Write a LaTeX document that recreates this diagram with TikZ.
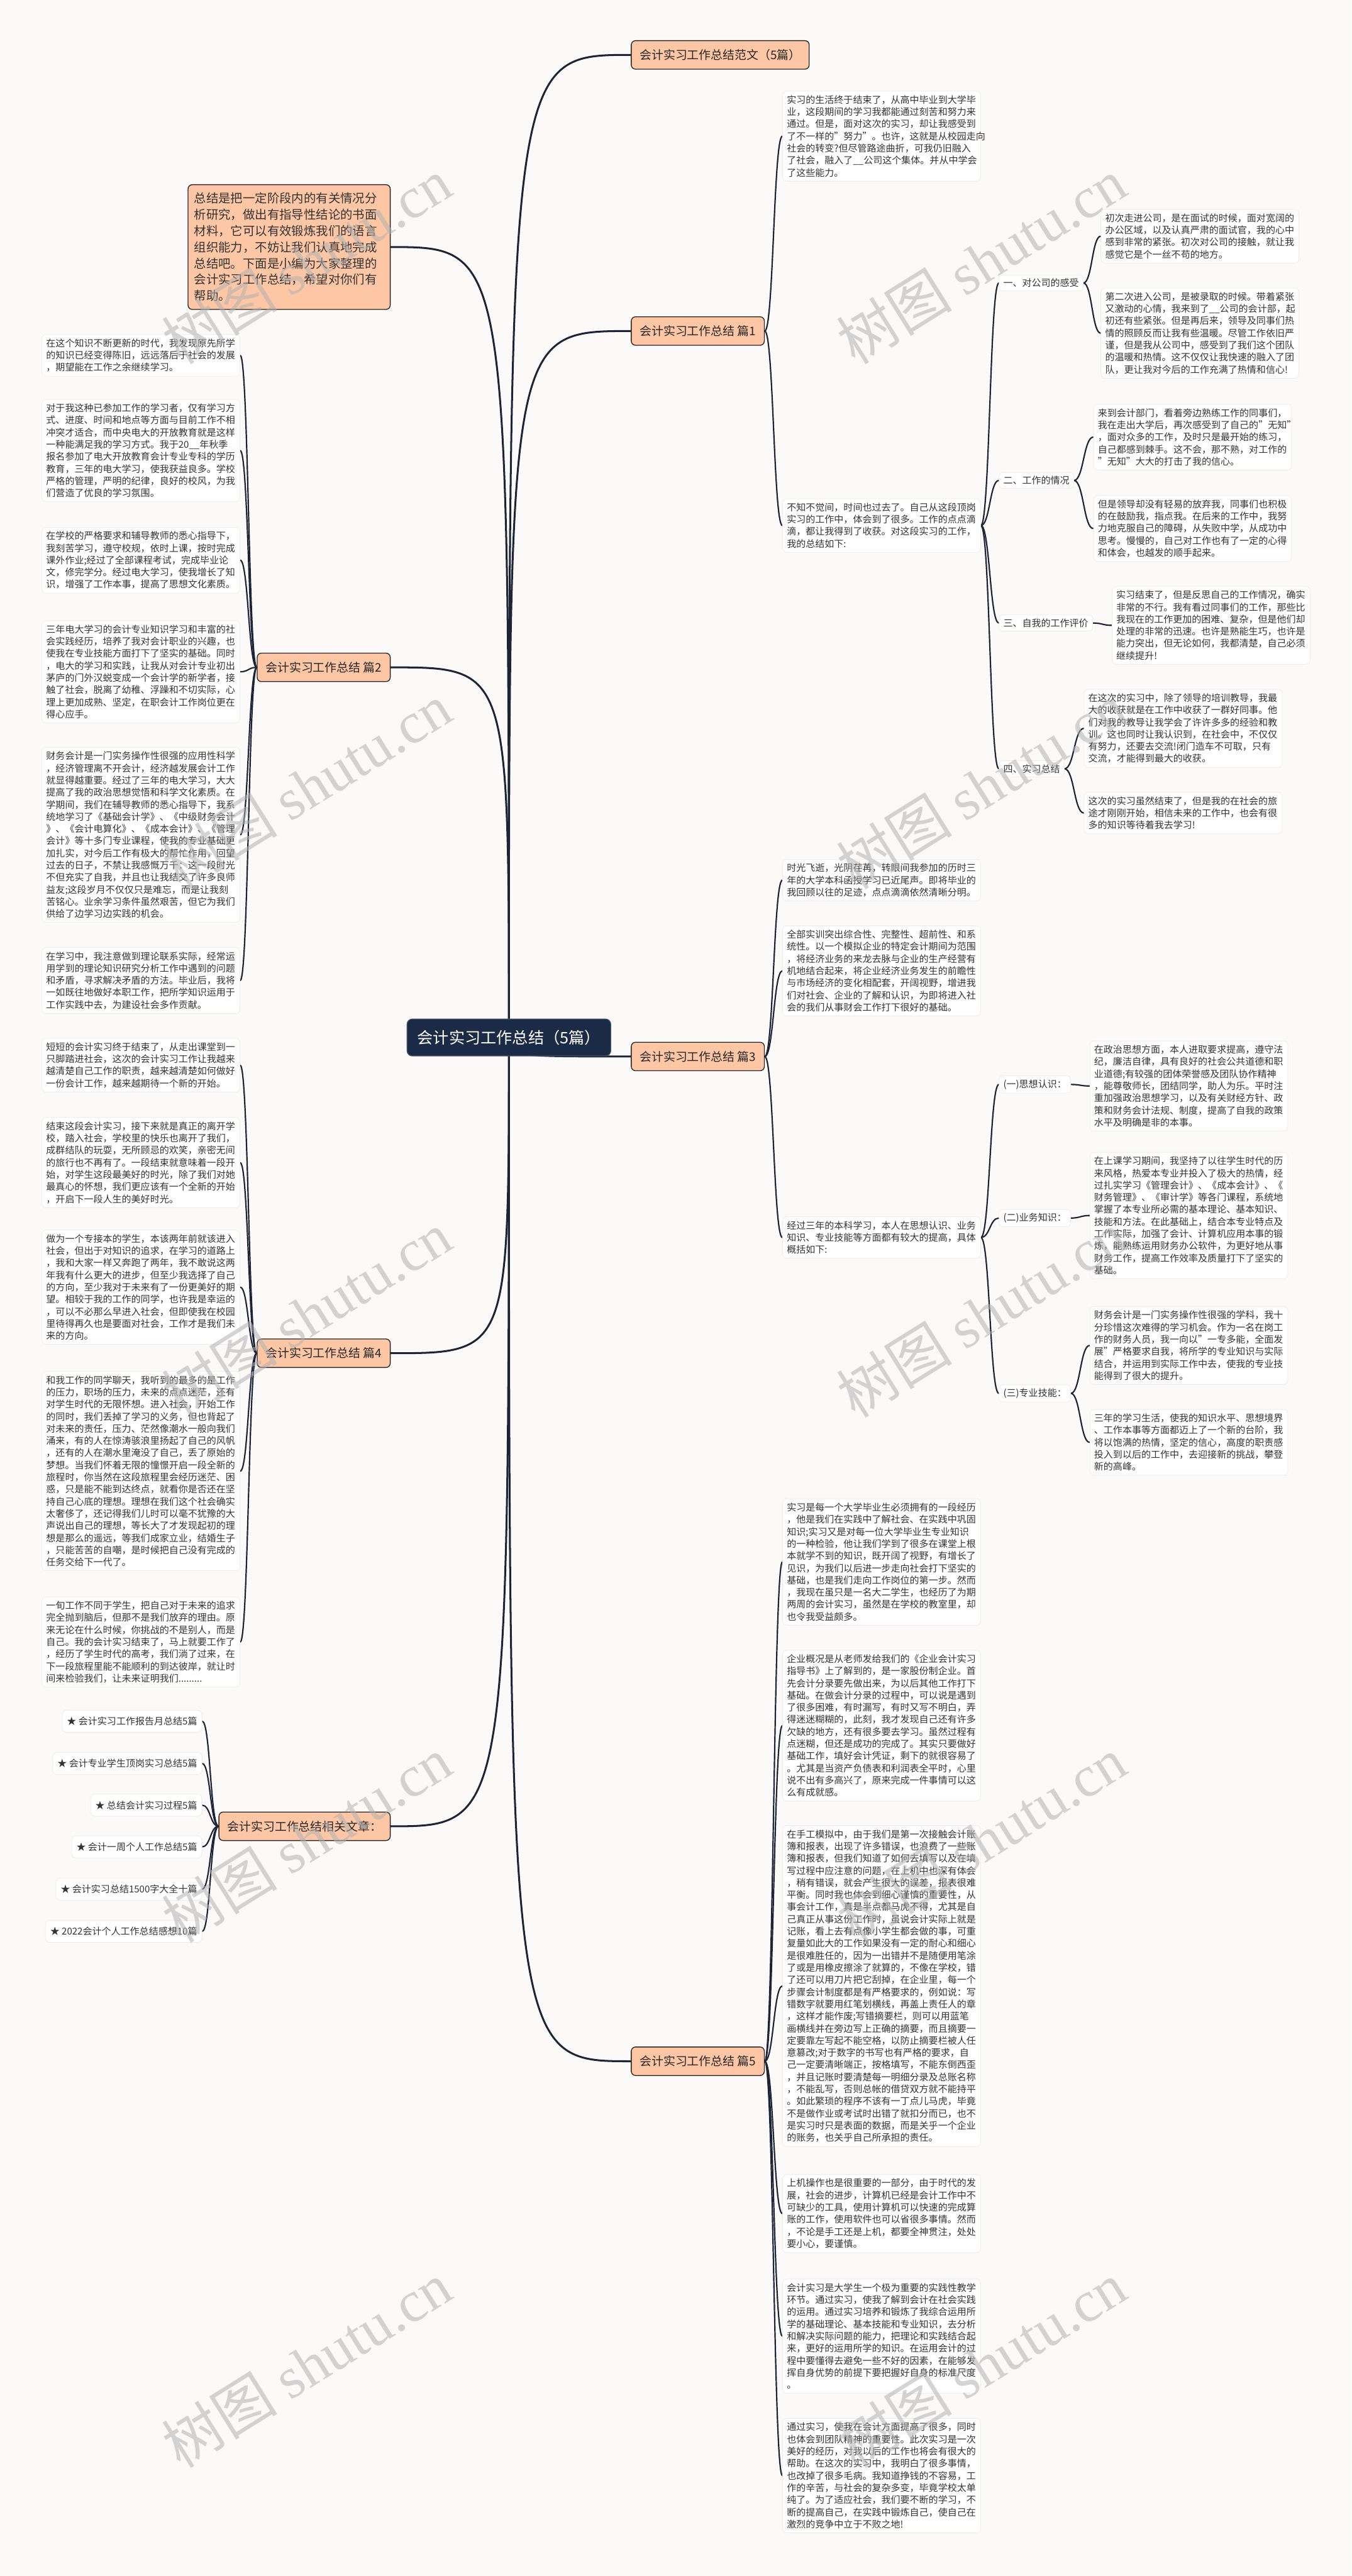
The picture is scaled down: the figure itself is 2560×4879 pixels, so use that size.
\documentclass[tikz,border=0pt]{standalone}
\usepackage{fontspec}
\setmainfont{Noto Sans CJK SC}
\newfontfamily\wmlat{Liberation Serif}
\usetikzlibrary{calc}
\pgfdeclarelayer{back}
\pgfdeclarelayer{lines}
\pgfsetlayers{back,lines,main}
\definecolor{bg}{HTML}{FCFAF9}
\definecolor{peach}{HTML}{FDC6A5}
\definecolor{navy}{HTML}{1B2A45}
\definecolor{linec}{HTML}{1C2436}
\definecolor{txt}{HTML}{333333}
\definecolor{faint}{HTML}{F0EBE8}
\tikzset{
 conn/.style={draw=linec, line width=2.6pt, line cap=round},
 rootconn/.style={draw=linec, line width=3.6pt, line cap=round},
 body/.style={anchor=north west, fill=white, draw=faint, line width=1pt, rounded corners=8pt, text width=359pt, inner xsep=8pt, inner ysep=8pt, align=left, text=txt, font=\fontsize{17.9}{23}\selectfont},
 branch/.style={fill=peach, draw=black!85, line width=1.6pt, rounded corners=8pt, minimum height=54pt, inner xsep=16pt, text=black!85, font=\fontsize{22.5}{26}\selectfont},
 subn/.style={anchor=west, fill=white, draw=faint, line width=1pt, rounded corners=6pt, inner xsep=8pt, inner ysep=7pt, text=txt, font=\fontsize{17.9}{22}\selectfont},
 item/.style={anchor=east, fill=white, draw=faint, line width=1pt, rounded corners=8pt, inner xsep=9pt, minimum height=42pt, text=txt, font=\fontsize{17.9}{22}\selectfont},
 rootn/.style={fill=navy, draw=navy!80!white, line width=1.5pt, rounded corners=10pt, minimum width=386pt, minimum height=70pt, text=white, font=\fontsize{30}{34}\selectfont},
 intron/.style={anchor=north east, fill=peach, draw=black!85, line width=1.6pt, rounded corners=8pt, text width=360pt, inner xsep=11.5pt, inner ysep=15pt, align=left, text=txt, font=\fontsize{23.1}{30.8}\selectfont},
 wm/.style={anchor=south west, rotate=32, text=black!30, opacity=0.55, inner sep=0pt, font=\fontsize{110}{110}\selectfont},
}
\newcommand\sconn[2]{\coordinate (sA) at (#1); \coordinate (sB) at (#2); \coordinate (sM) at ($(sA)!0.5!(sB)$); \draw[conn] (sA) .. controls (sM |- sA) and (sM |- sB) .. (sB);}
\newcommand\rconn[2]{\coordinate (rA) at (#1); \coordinate (rB) at (#2); \draw[rootconn] (rA) .. controls (rA |- rB) .. (rB);}
\begin{document}
\begin{tikzpicture}[x=1pt,y=-1pt]
\useasboundingbox (0,0) rectangle (2560,4879);
\begin{pgfonlayer}{back}\fill[bg] (0,0) rectangle (2560,4879);\end{pgfonlayer}

% root and branches
\node[rootn] (root) at (964,1965) {会计实习工作总结（5篇）};
\node[branch, anchor=west] (fw) at (1195,104) {会计实习工作总结范文（5篇）};
\node[branch, anchor=west] (p1) at (1195,627) {会计实习工作总结 篇1};
\node[branch, anchor=west] (p3) at (1195,2001) {会计实习工作总结 篇3};
\node[branch, anchor=west] (p5) at (1195,3904) {会计实习工作总结 篇5};
\node[branch, anchor=east] (p2) at (740,1264) {会计实习工作总结 篇2};
\node[branch, anchor=east] (p4) at (740,2563) {会计实习工作总结 篇4};
\node[branch, anchor=east] (rel) at (740,3459) {会计实习工作总结相关文章：};
\node[intron] (intro) at (740,349) {总结是把一定阶段内的有关情况分\\析研究，做出有指导性结论的书面\\材料，它可以有效锻炼我们的语言\\组织能力，不妨让我们认真地完成\\总结吧。下面是小编为大家整理的\\会计实习工作总结，希望对你们有\\帮助。};

% 篇2 texts
\node[body] (L2a) at (79,633) {在这个知识不断更新的时代，我发现原先所学\\的知识已经变得陈旧，远远落后于社会的发展\\，期望能在工作之余继续学习。};
\node[body] (L2b) at (79,756) {对于我这种已参加工作的学习者，仅有学习方\\式、进度、时间和地点等方面与目前工作不相\\冲突才适合，而中央电大的开放教育就是这样\\一种能满足我的学习方式。我于20\_\_年秋季\\报名参加了电大开放教育会计专业专科的学历\\教育，三年的电大学习，使我获益良多。学校\\严格的管理，严明的纪律，良好的校风，为我\\们营造了优良的学习氛围。};
\node[body] (L2c) at (79,998) {在学校的严格要求和辅导教师的悉心指导下，\\我刻苦学习，遵守校规，依时上课，按时完成\\课外作业;经过了全部课程考试，完成毕业论\\文，修完学分。经过电大学习，使我增长了知\\识，增强了工作本事，提高了思想文化素质。};
\node[body] (L2d) at (79,1175) {三年电大学习的会计专业知识学习和丰富的社\\会实践经历，培养了我对会计职业的兴趣，也\\使我在专业技能方面打下了坚实的基础。同时\\，电大的学习和实践，让我从对会计专业初出\\茅庐的门外汉蜕变成一个会计学的新学者，接\\触了社会，脱离了幼稚、浮躁和不切实际，心\\理上更加成熟、坚定，在职会计工作岗位更在\\得心应手。};
\node[body] (L2e) at (79,1415) {财务会计是一门实务操作性很强的应用性科学\\，经济管理离不开会计，经济越发展会计工作\\就显得越重要。经过了三年的电大学习，大大\\提高了我的政治思想觉悟和科学文化素质。在\\学期间，我们在辅导教师的悉心指导下，我系\\统地学习了《基础会计学》、《中级财务会计\\》、《会计电算化》、《成本会计》、《管理\\会计》等十多门专业课程，使我的专业基础更\\加扎实，对今后工作有极大的帮忙作用，回望\\过去的日子，不禁让我感慨万千：这一段时光\\不但充实了自我，并且也让我结交了许多良师\\益友;这段岁月不仅仅只是难忘，而是让我刻\\苦铭心。业余学习条件虽然艰苦，但它为我们\\供给了边学习边实践的机会。};
\node[body] (L2f) at (79,1794) {在学习中，我注意做到理论联系实际，经常运\\用学到的理论知识研究分析工作中遇到的问题\\和矛盾，寻求解决矛盾的方法。毕业后，我将\\一如既往地做好本职工作，把所学知识运用于\\工作实践中去，为建设社会多作贡献。};

% 篇4 texts
\node[body] (L4a) at (79,1966) {短短的会计实习终于结束了，从走出课堂到一\\只脚踏进社会，这次的会计实习工作让我越来\\越清楚自己工作的职责，越来越清楚如何做好\\一份会计工作，越来越期待一个新的开始。};
\node[body] (L4b) at (79,2116) {结束这段会计实习，接下来就是真正的离开学\\校，踏入社会，学校里的快乐也离开了我们，\\成群结队的玩耍，无所顾忌的欢笑，亲密无间\\的旅行也不再有了。一段结束就意味着一段开\\始，对学生这段最美好的时光，除了我们对她\\最真心的怀想，我们更应该有一个全新的开始\\，开启下一段人生的美好时光。};
\node[body] (L4c) at (79,2329) {做为一个专接本的学生，本该两年前就该进入\\社会，但出于对知识的追求，在学习的道路上\\，我和大家一样又奔跑了两年，我不敢说这两\\年我有什么更大的进步，但至少我选择了自己\\的方向，至少我对于未来有了一份更美好的期\\望。相较于我的工作的同学，也许我是幸运的\\，可以不必那么早进入社会，但即使我在校园\\里待得再久也是要面对社会，工作才是我们未\\来的方向。};
\node[body] (L4d) at (79,2597) {和我工作的同学聊天，我听到的最多的是工作\\的压力，职场的压力，未来的点点迷茫，还有\\对学生时代的无限怀想。进入社会，开始工作\\的同时，我们丢掉了学习的义务，但也背起了\\对未来的责任，压力、茫然像潮水一般向我们\\涌来，有的人在惊涛骇浪里扬起了自己的风帆\\，还有的人在潮水里淹没了自己，丢了原始的\\梦想。当我们怀着无限的憧憬开启一段全新的\\旅程时，你当然在这段旅程里会经历迷茫、困\\惑，只是能不能到达终点，就看你是否还在坚\\持自己心底的理想。理想在我们这个社会确实\\太奢侈了，还记得我们儿时可以毫不犹豫的大\\声说出自己的理想，等长大了才发现起初的理\\想是那么的遥远，等我们成家立业，结婚生子\\，只能苦苦的自嘲，是时候把自己没有完成的\\任务交给下一代了。};
\node[body] (L4e) at (79,3024) {一旬工作不同于学生，把自己对于未来的追求\\完全抛到脑后，但那不是我们放弃的理由。原\\来无论在什么时候，你挑战的不是别人，而是\\自己。我的会计实习结束了，马上就要工作了\\，经历了学生时代的高考，我们淌了过来，在\\下一段旅程里能不能顺利的到达彼岸，就让时\\间来检验我们，让未来证明我们.........};

% related items
\node[item] (r1) at (383,3260) {★ 会计实习工作报告月总结5篇};
\node[item] (r2) at (383,3340) {★ 会计专业学生顶岗实习总结5篇};
\node[item] (r3) at (383,3419) {★ 总结会计实习过程5篇};
\node[item] (r4) at (383,3498) {★ 会计一周个人工作总结5篇};
\node[item] (r5) at (383,3578) {★ 会计实习总结1500字大全十篇};
\node[item] (r6) at (383,3658) {★ 2022会计个人工作总结感想10篇};

% 篇1
\node[body] (P1a) at (1482,172) {实习的生活终于结束了，从高中毕业到大学毕\\业，这段期间的学习我都能通过刻苦和努力来\\通过。但是，面对这次的实习，却让我感受到\\了不一样的"努力"。也许，这就是从校园走向\\社会的转变?但尽管路途曲折，可我仍旧融入\\了社会，融入了\_\_公司这个集体。并从中学会\\了这些能力。};
\node[body] (P1b) at (1482,944) {不知不觉间，时间也过去了。自己从这段顶岗\\实习的工作中，体会到了很多。工作的点点滴\\滴，都让我得到了收获。对这段实习的工作，\\我的总结如下:};
\node[subn] (s1) at (1892,536) {一、对公司的感受};
\node[subn] (s2) at (1892,910) {二、工作的情况};
\node[subn] (s3) at (1892,1180) {三、自我的工作评价};
\node[subn] (s4) at (1892,1456) {四、实习总结};
\node[body] (C1a) at (2085,396) {初次走进公司，是在面试的时候，面对宽阔的\\办公区域，以及认真严肃的面试官，我的心中\\感到非常的紧张。初次对公司的接触，就让我\\感觉它是个一丝不苟的地方。};
\node[body] (C1b) at (2085,545) {第二次进入公司，是被录取的时候。带着紧张\\又激动的心情，我来到了\_\_公司的会计部，起\\初还有些紧张。但是再后来，领导及同事们热\\情的照顾反而让我有些温暖。尽管工作依旧严\\谨，但是我从公司中，感受到了我们这个团队\\的温暖和热情。这不仅仅让我快速的融入了团\\队，更让我对今后的工作充满了热情和信心!};
\node[body] (C2a) at (2071,765) {来到会计部门，看着旁边熟练工作的同事们，\\我在走出大学后，再次感受到了自己的"无知"\\，面对众多的工作，及时只是最开始的练习，\\自己都感到棘手。这不会，那不熟，对工作的\\"无知"大大的打击了我的信心。};
\node[body] (C2b) at (2071,938) {但是领导却没有轻易的放弃我，同事们也积极\\的在鼓励我，指点我。在后来的工作中，我努\\力地克服自己的障碍，从失败中学，从成功中\\思考。慢慢的，自己对工作也有了一定的心得\\和体会，也越发的顺手起来。};
\node[body] (C3) at (2106,1110) {实习结束了，但是反思自己的工作情况，确实\\非常的不行。我有看过同事们的工作，那些比\\我现在的工作更加的困难、复杂，但是他们却\\处理的非常的迅速。也许是熟能生巧，也许是\\能力突出，但无论如何，我都清楚，自己必须\\继续提升!};
\node[body] (C4a) at (2053,1305) {在这次的实习中，除了领导的培训教导，我最\\大的收获就是在工作中收获了一群好同事。他\\们对我的教导让我学会了许许多多的经验和教\\训。这也同时让我认识到，在社会中，不仅仅\\有努力，还要去交流!闭门造车不可取，只有\\交流，才能得到最大的收获。};
\node[body] (C4b) at (2053,1500) {这次的实习虽然结束了，但是我的在社会的旅\\途才刚刚开始，相信未来的工作中，也会有很\\多的知识等待着我去学习!};

% 篇3
\node[body] (P3a) at (1482,1627) {时光飞逝，光阴荏苒，转眼间我参加的历时三\\年的大学本科函授学习已近尾声。即将毕业的\\我回顾以往的足迹，点点滴滴依然清晰分明。};
\node[body] (P3b) at (1482,1753) {全部实训突出综合性、完整性、超前性、和系\\统性。以一个模拟企业的特定会计期间为范围\\，将经济业务的来龙去脉与企业的生产经营有\\机地结合起来，将企业经济业务发生的前瞻性\\与市场经济的变化相配套，开阔视野，增进我\\们对社会、企业的了解和认识，为即将进入社\\会的我们从事财会工作打下很好的基础。};
\node[body] (P3c) at (1482,2304) {经过三年的本科学习，本人在思想认识、业务\\知识、专业技能等方面都有较大的提高，具体\\概括如下:};
\node[subn] (t1) at (1892,2054) {(一)思想认识：};
\node[subn] (t2) at (1892,2307) {(二)业务知识：};
\node[subn] (t3) at (1892,2639) {(三)专业技能：};
\node[body] (D1) at (2064,1971) {在政治思想方面，本人进取要求提高，遵守法\\纪，廉洁自律，具有良好的社会公共道德和职\\业道德;有较强的团体荣誉感及团队协作精神\\，能尊敬师长，团结同学，助人为乐。平时注\\重加强政治思想学习，以及有关财经方针、政\\策和财务会计法规、制度，提高了自我的政策\\水平及明确是非的本事。};
\node[body] (D2) at (2064,2182) {在上课学习期间，我坚持了以往学生时代的历\\来风格，热爱本专业并投入了极大的热情，经\\过扎实学习《管理会计》、《成本会计》、《\\财务管理》、《审计学》等各门课程，系统地\\掌握了本专业所必需的基本理论、基本知识、\\技能和方法。在此基础上，结合本专业特点及\\工作实际，加强了会计、计算机应用本事的锻\\炼，能熟练运用财务办公软件，为更好地从事\\财务工作，提高工作效率及质量打下了坚实的\\基础。};
\node[body] (D3a) at (2064,2474) {财务会计是一门实务操作性很强的学科，我十\\分珍惜这次难得的学习机会。作为一名在岗工\\作的财务人员，我一向以"一专多能，全面发\\展"严格要求自我，将所学的专业知识与实际\\结合，并运用到实际工作中去，使我的专业技\\能得到了很大的提升。};
\node[body] (D3b) at (2064,2669) {三年的学习生活，使我的知识水平、思想境界\\、工作本事等方面都迈上了一个新的台阶，我\\将以饱满的热情，坚定的信心，高度的职责感\\投入到以后的工作中，去迎接新的挑战，攀登\\新的高峰。};

% 篇5
\node[body] (P5a) at (1482,2838) {实习是每一个大学毕业生必须拥有的一段经历\\，他是我们在实践中了解社会、在实践中巩固\\知识;实习又是对每一位大学毕业生专业知识\\的一种检验，他让我们学到了很多在课堂上根\\本就学不到的知识，既开阔了视野，有增长了\\见识，为我们以后进一步走向社会打下坚实的\\基础，也是我们走向工作岗位的第一步。然而\\，我现在虽只是一名大二学生，也经历了为期\\两周的会计实习，虽然是在学校的教室里，却\\也令我受益颇多。};
\node[body] (P5b) at (1482,3125) {企业概况是从老师发给我们的《企业会计实习\\指导书》上了解到的，是一家股份制企业。首\\先会计分录要先做出来，为以后其他工作打下\\基础。在做会计分录的过程中，可以说是遇到\\了很多困难，有时漏写，有时又写不明白，弄\\得迷迷糊糊的，此刻，我才发现自己还有许多\\欠缺的地方，还有很多要去学习。虽然过程有\\点迷糊，但还是成功的完成了。其实只要做好\\基础工作，填好会计凭证，剩下的就很容易了\\。尤其是当资产负债表和利润表全平时，心里\\说不出有多高兴了，原来完成一件事情可以这\\么有成就感。};
\node[body] (P5c) at (1482,3457) {在手工模拟中，由于我们是第一次接触会计账\\簿和报表，出现了许多错误，也浪费了一些账\\簿和报表，但我们知道了如何去填写以及在填\\写过程中应注意的问题，在上机中也深有体会\\，稍有错误，就会产生很大的误差，报表很难\\平衡。同时我也体会到细心谨慎的重要性，从\\事会计工作，真是半点都马虎不得，尤其是自\\己真正从事这份工作时，虽说会计实际上就是\\记账，看上去有点像小学生都会做的事，可重\\复量如此大的工作如果没有一定的耐心和细心\\是很难胜任的，因为一出错并不是随便用笔涂\\了或是用橡皮擦涂了就算的，不像在学校，错\\了还可以用刀片把它刮掉，在企业里，每一个\\步骤会计制度都是有严格要求的，例如说：写\\错数字就要用红笔划横线，再盖上责任人的章\\，这样才能作废;写错摘要栏，则可以用蓝笔\\画横线并在旁边写上正确的摘要，而且摘要一\\定要靠左写起不能空格，以防止摘要栏被人任\\意篡改;对于数字的书写也有严格的要求，自\\己一定要清晰端正，按格填写，不能东倒西歪\\，并且记账时要清楚每一明细分录及总账名称\\，不能乱写，否则总帐的借贷双方就不能持平\\。如此繁琐的程序不该有一丁点儿马虎，毕竟\\不是做作业或考试时出错了就扣分而已，也不\\是实习时只是表面的数据，而是关乎一个企业\\的账务，也关乎自己所承担的责任。};
\node[body] (P5d) at (1482,4118) {上机操作也是很重要的一部分，由于时代的发\\展，社会的进步，计算机已经是会计工作中不\\可缺少的工具，使用计算机可以快速的完成算\\账的工作，使用软件也可以省很多事情。然而\\，不论是手工还是上机，都要全神贯注，处处\\要小心，要谨慎。};
\node[body] (P5e) at (1482,4316) {会计实习是大学生一个极为重要的实践性教学\\环节。通过实习，使我了解到会计在社会实践\\的运用。通过实习培养和锻炼了我综合运用所\\学的基础理论、基本技能和专业知识，去分析\\和解决实际问题的能力，把理论和实践结合起\\来，更好的运用所学的知识。在运用会计的过\\程中要懂得去避免一些不好的因素，在能够发\\挥自身优势的前提下要把握好自身的标准尺度\\。};
\node[body] (P5f) at (1482,4580) {通过实习，使我在会计方面提高了很多，同时\\也体会到团队精神的重要性。此次实习是一次\\美好的经历，对我以后的工作也将会有很大的\\帮助。在这次的实习中，我明白了很多事情，\\也改掉了很多毛病。我知道挣钱的不容易，工\\作的辛苦，与社会的复杂多变，毕竟学校太单\\纯了。为了适应社会，我们要不断的学习，不\\断的提高自己，在实践中锻炼自己，使自己在\\激烈的竞争中立于不败之地!};

% connectors
\begin{pgfonlayer}{lines}
\rconn{root.center}{intro.east}
\rconn{root.center}{p2.east}
\rconn{root.center}{p4.east}
\rconn{root.center}{rel.east}
\rconn{root.center}{fw.west}
\rconn{root.center}{p1.west}
\rconn{root.center}{p3.west}
\rconn{root.center}{p5.west}
\foreach \t in {L2a,L2b,L2c,L2d,L2e,L2f}{\sconn{p2.west}{\t.east}}
\foreach \t in {L4a,L4b,L4c,L4d,L4e}{\sconn{p4.west}{\t.east}}
\foreach \t in {r1,r2,r3,r4,r5,r6}{\sconn{rel.west}{\t.east}}
\foreach \t in {P1a,P1b}{\sconn{p1.east}{\t.west}}
\foreach \t in {s1,s2,s3,s4}{\sconn{P1b.east}{\t.west}}
\foreach \t in {C1a,C1b}{\sconn{s1.east}{\t.west}}
\foreach \t in {C2a,C2b}{\sconn{s2.east}{\t.west}}
\sconn{s3.east}{C3.west}
\foreach \t in {C4a,C4b}{\sconn{s4.east}{\t.west}}
\foreach \t in {P3a,P3b,P3c}{\sconn{p3.east}{\t.west}}
\foreach \t in {t1,t2,t3}{\sconn{P3c.east}{\t.west}}
\sconn{t1.east}{D1.west}
\sconn{t2.east}{D2.west}
\foreach \t in {D3a,D3b}{\sconn{t3.east}{\t.west}}
\foreach \t in {P5a,P5b,P5c,P5d,P5e,P5f}{\sconn{p5.east}{\t.west}}
\end{pgfonlayer}

% watermarks
\foreach \wy [count=\i] in {700,1695,2695,3690,4685}{
  \node[wm] (wl\i) at (347,\wy) {树图 {\wmlat shutu.cn}};
  \node[wm] (wr\i) at (1625,\wy) {树图 {\wmlat shutu.cn}};
}
\end{tikzpicture}
\end{document}
